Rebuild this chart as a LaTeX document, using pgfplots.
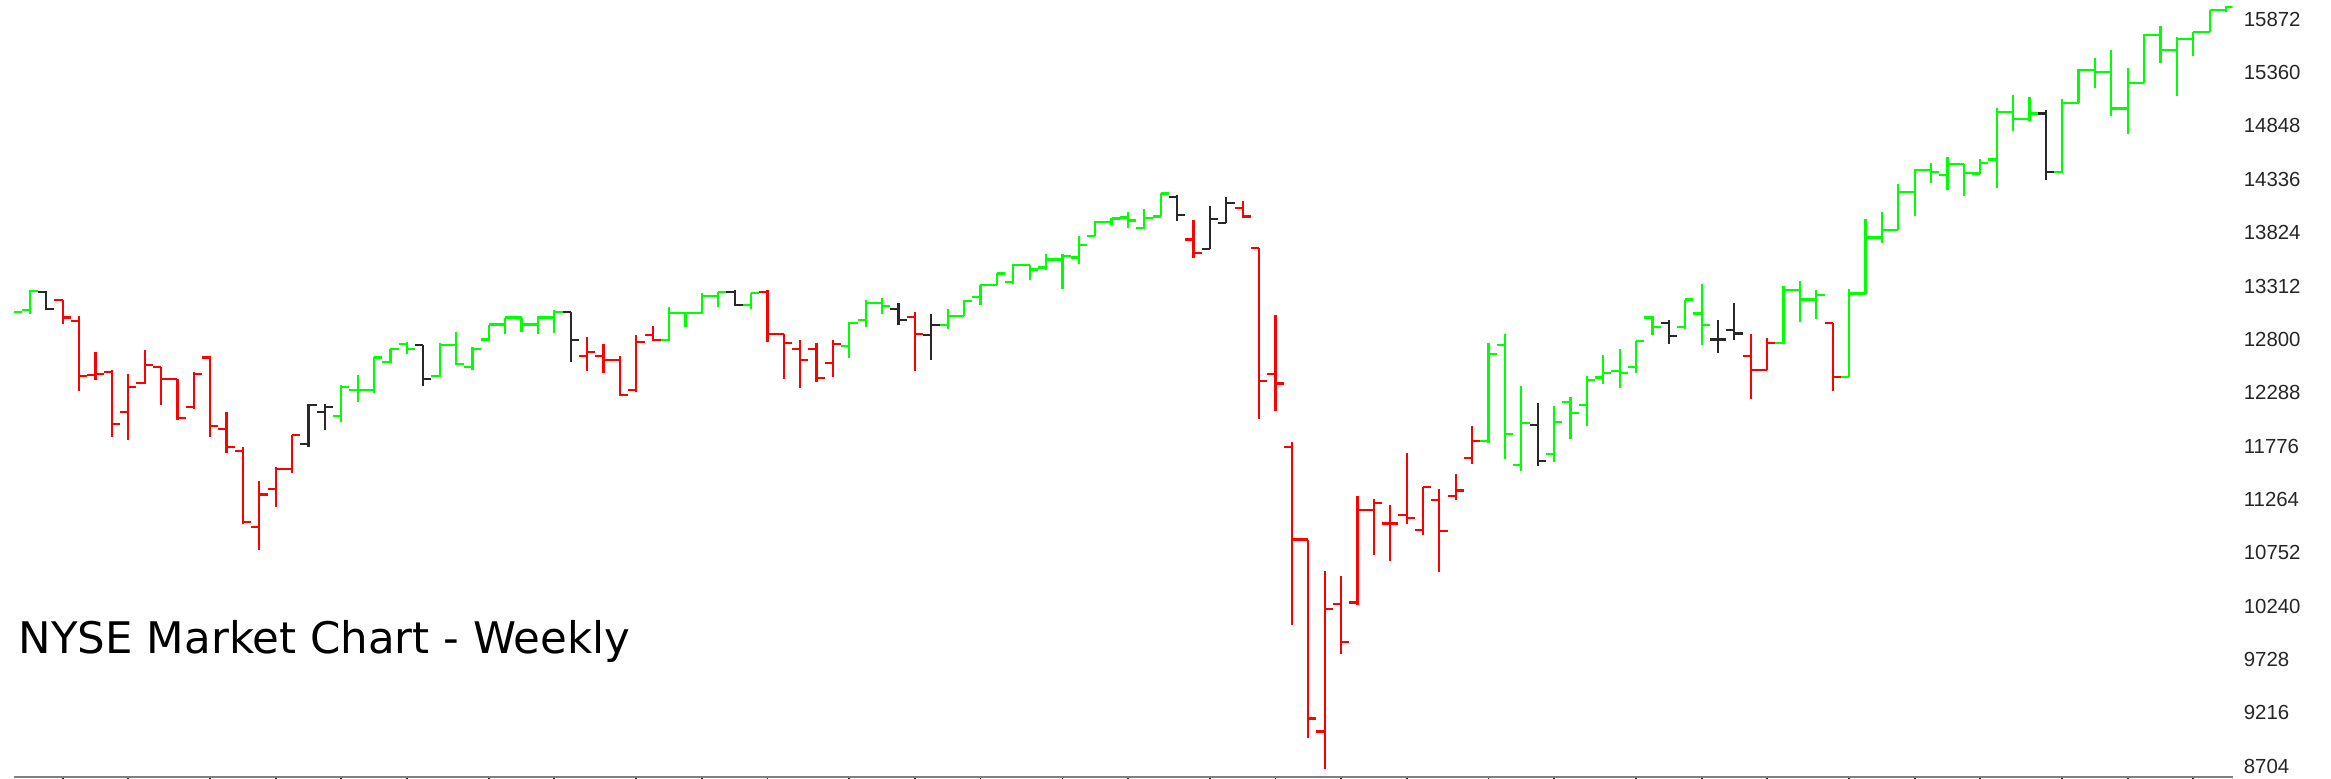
\documentclass[border=0pt]{standalone}
\usepackage{pgfplots}
\pgfplotsset{compat=1.18}
\usepackage{pgfplotstable}
\usepackage{fontspec}
\newfontfamily\tickfont{Liberation Sans}
\newfontfamily\titlefont{DejaVu Sans}
\definecolor{upg}{RGB}{0,255,0}
\definecolor{dnr}{RGB}{255,0,0}
\definecolor{neu}{RGB}{40,40,40}

\pgfplotstableread{
k o h l c
0 13060 13075 13050 13064
1 13080 13272 13041 13262
20 12061 12359 12007 12343
21 12317 12455 12199 12311
22 12317 12631 12285 12625
23 12583 12711 12573 12711
24 12759 12775 12657 12711
26 12445 12765 12439 12743
27 12743 12871 12551 12561
28 12535 12727 12503 12711
29 12798 12942 12798 12942
30 12942 13009 12849 13009
31 13009 13009 12871 12942
32 12942 13022 12855 13009
33 13009 13079 12861 13063
40 12791 13111 12785 13054
41 13054 13063 12919 13054
42 13054 13246 13054 13214
43 13214 13255 13111 13255
45 13127 13246 13095 13246
51 12733 12967 12625 12957
52 12989 13182 12919 13150
53 13150 13201 13041 13118
57 12941 13095 12903 13021
58 13021 13175 13021 13169
59 13207 13319 13127 13319
60 13319 13438 13319 13431
61 13351 13521 13335 13511
62 13511 13511 13374 13470
63 13489 13617 13470 13566
64 13566 13623 13287 13598
65 13585 13790 13527 13704
66 13790 13934 13790 13928
67 13928 13969 13896 13960
68 13969 14024 13864 13940
69 13869 14053 13858 13968
70 13979 14200 13979 14200
90 11821 12766 11805 12657
91 12743 12849 11655 11895
92 11591 12350 11536 11997
94 11703 12157 11623 12007
95 12199 12247 11847 12093
96 12167 12446 11965 12407
97 12433 12647 12369 12478
98 12497 12711 12337 12478
99 12535 12785 12478 12782
100 13009 13022 12839 12919
102 12919 13182 12903 13182
103 13048 13330 12744 12936
108 12766 13310 12760 13272
109 13272 13362 12968 13182
110 13182 13272 13000 13224
112 12440 13288 12440 13240
113 13240 13951 13234 13778
114 13778 14024 13720 13848
115 13848 14290 13848 14217
116 14217 14431 13983 14425
117 14425 14495 14297 14409
118 14377 14553 14233 14482
119 14482 14482 14175 14393
120 14392 14526 14386 14494
121 14526 15016 14257 14984
122 14984 15144 14802 14911
123 14911 15128 14898 14968
125 14408 15103 14398 15071
126 15071 15391 15071 15385
127 15385 15497 15208 15369
128 15369 15577 14943 15016
129 15016 15401 14770 15257
130 15257 15730 15257 15721
131 15721 15807 15455 15577
132 15577 15698 15135 15679
133 15679 15753 15519 15753
134 15753 15961 15753 15961
135 15961 16000 15945 15987
}\greentab

\pgfplotstableread{
k o h l c
3 13176 13176 12952 13009
4 12974 13022 12302 12446
5 12455 12679 12407 12465
6 12487 12503 11863 11991
7 12103 12471 11831 12343
8 12382 12695 12375 12551
9 12535 12535 12167 12423
10 12423 12423 12023 12049
11 12151 12487 12135 12465
12 12625 12638 11863 11965
13 11943 12103 11709 11767
14 11728 11767 11030 11046
15 10998 11440 10781 11312
16 11363 11575 11190 11559
17 11559 11879 11517 11879
35 12637 12823 12496 12679
36 12637 12753 12477 12605
37 12605 12637 12253 12263
38 12311 12839 12295 12775
39 12839 12925 12785 12797
46 13255 13271 12775 12855
47 12855 12855 12423 12765
48 12711 12797 12336 12605
49 12711 12765 12391 12432
50 12573 12797 12439 12759
55 13015 13063 12496 12849
72 13759 13943 13576 13631
75 14064 14126 13961 13979
76 13675 13675 12035 12402
77 12464 13037 12108 12376
78 11767 11815 10054 10879
79 10879 10879 8971 9162
80 9037 10578 8678 10211
81 10263 10531 9778 9896
82 10274 11301 10255 11165
83 11165 11264 10732 11228
84 11033 11209 10677 11033
85 11118 11705 11026 11085
86 10973 11382 10918 11382
87 11261 11367 10566 10960
88 11293 11511 11254 11350
89 11664 11965 11600 11821
106 12638 12856 12231 12504
107 12504 12817 12504 12766
111 12958 12958 12305 12440
}\redtab

\pgfplotstableread{
k o h l c
2 13256 13262 13080 13089
18 11798 12183 11766 12173
19 12103 12183 11933 12151
25 12749 12749 12349 12423
34 13063 13063 12583 12797
44 13255 13271 13118 13127
54 13095 13150 12935 12989
56 12839 13047 12599 12941
71 14163 14181 13932 13990
73 13668 14078 13668 13954
74 13917 14163 13917 14108
93 11975 12189 11581 11632
101 12958 12990 12753 12830
104 12798 12990 12670 12798
105 12888 13150 12792 12856
124 14968 15000 14328 14408
}\blacktab

\pgfplotsset{
  ohlc/.style={line width=0.55pt, draw=#1, no marks},
}

\begin{document}
\begin{tikzpicture}[x=1pt,y=1pt]
\useasboundingbox (0,0) rectangle (582.75,194.75);
\begin{axis}[
  at={(3.5pt,0.5pt)}, anchor=south west,
  scale only axis, width=554.65pt, height=194.25pt,
  xmin=0.03, xmax=135.4, ymin=8600, ymax=16057,
  axis x line*=bottom, axis y line*=right,
  x axis line style={draw=gray, line width=0.55pt},
  y axis line style={draw=none},
  xtick={3,7,12,16,20,24,29,33,38,42,46,51,55,59,64,68,73,77,81,85,90,94,99,103,107,112,116,120,125,129,133},
  xticklabels={},
  xtick align=outside,
  xtick style={draw=black!85, line width=0.45pt},
  major tick length=0.8pt,
  ytick={8704,9216,9728,10240,10752,11264,11776,12288,12800,13312,13824,14336,14848,15360,15872},
  yticklabels={8704,9216,9728,10240,10752,11264,11776,12288,12800,13312,13824,14336,14848,15360,15872},
  ytick style={draw=none},
  ytick align=inside,
  yticklabel style={font=\tickfont\fontsize{5.1}{6}\selectfont, text=black!85, anchor=west, inner sep=0pt, xshift=2.6pt},
  clip=true,
]
% green bars
\addplot[ohlc=upg, quiver={u=0, v=\thisrow{h}-\thisrow{l}}] table[x=k, y=l] {\greentab};
\addplot[ohlc=upg, quiver={u=-0.5, v=0}] table[x=k, y=o] {\greentab};
\addplot[ohlc=upg, quiver={u=0.5, v=0}] table[x=k, y=c] {\greentab};
% red bars
\addplot[ohlc=dnr, quiver={u=0, v=\thisrow{h}-\thisrow{l}}] table[x=k, y=l] {\redtab};
\addplot[ohlc=dnr, quiver={u=-0.5, v=0}] table[x=k, y=o] {\redtab};
\addplot[ohlc=dnr, quiver={u=0.5, v=0}] table[x=k, y=c] {\redtab};
% black bars
\addplot[ohlc=neu, quiver={u=0, v=\thisrow{h}-\thisrow{l}}] table[x=k, y=l] {\blacktab};
\addplot[ohlc=neu, quiver={u=-0.5, v=0}] table[x=k, y=o] {\blacktab};
\addplot[ohlc=neu, quiver={u=0.5, v=0}] table[x=k, y=c] {\blacktab};
\end{axis}
\node[anchor=base west, inner sep=0pt, font=\titlefont\fontsize{10.88}{13}\selectfont] at (4.5,31.25) {NYSE Market Chart - Weekly};
\end{tikzpicture}
\end{document}
